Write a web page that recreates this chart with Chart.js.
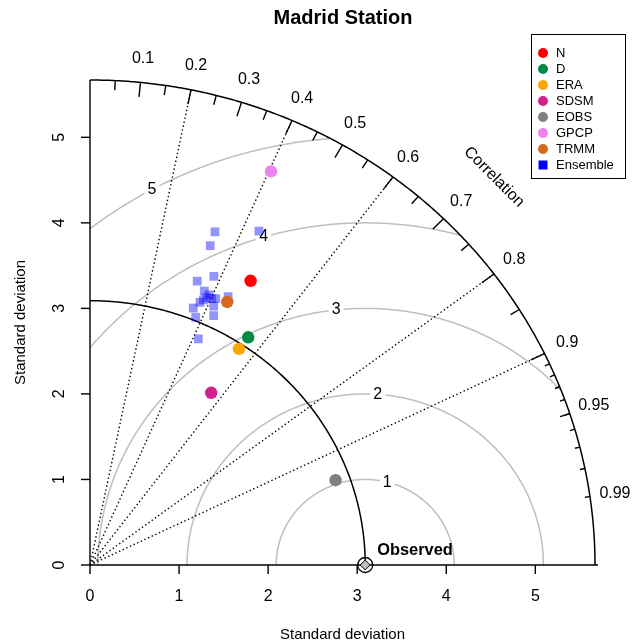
<!DOCTYPE html>
<html><head><meta charset="utf-8">
<script src="https://cdn.jsdelivr.net/npm/chart.js@4/dist/chart.umd.min.js"></script>
<style>html,body{margin:0;padding:0;background:#fff;}canvas{display:block;}</style>
</head><body>
<canvas id="c" width="633" height="644"></canvas>
<script>
// ---- data (standard deviation and correlation) ----
const chartTitle = 'Madrid Station';
const models = ['N', 'D', 'ERA', 'SDSM', 'EOBS', 'GPCP', 'TRMM'];
const modelSD = [3.78, 3.20, 3.03, 2.43, 2.93, 5.03, 3.44];
const modelCor = [0.477, 0.555, 0.552, 0.560, 0.941, 0.404, 0.448];
const modelColors = ['#FF0000', '#008B45', '#FFA500', '#D02090', '#808080', '#EE82EE', '#D2691E'];
const ensembleLabel = 'Ensemble';
const ensembleSD = [4.14, 4.34, 3.97, 3.53, 3.65, 3.45, 3.50, 3.39, 3.40, 3.42, 3.43, 3.35, 3.31, 3.22, 3.33, 3.13, 3.23, 2.91];
const ensembleCor = [0.339, 0.437, 0.340, 0.341, 0.381, 0.372, 0.443, 0.386, 0.402, 0.413, 0.390, 0.380, 0.373, 0.360, 0.417, 0.379, 0.430, 0.418];
const observedSD = 3.09;
const maxSD = 5.67;
const sdTicks = [0, 1, 2, 3, 4, 5];
const rmsLevels = [1, 2, 3, 4, 5];
const corrLines = [0.2, 0.4, 0.6, 0.8, 0.9];
const corrMajor = [0.1, 0.2, 0.3, 0.4, 0.5, 0.6, 0.7, 0.8, 0.9];
const corrMedium = [0.05, 0.15, 0.25, 0.35, 0.45, 0.55, 0.65, 0.75, 0.85, 0.95];
const corrMinor = [0.91, 0.92, 0.93, 0.94, 0.95, 0.96, 0.97, 0.98, 0.99];
const corrLabels = [0.1, 0.2, 0.3, 0.4, 0.5, 0.6, 0.7, 0.8, 0.9, 0.95, 0.99];

const FONT = '"Liberation Sans", Arial, Helvetica, sans-serif';
const toXY = (sd, r) => ({ x: sd * r, y: sd * Math.sqrt(1 - r * r) });

const datasets = [];
datasets.push({ label: 'ObservedCircle', data: [toXY(observedSD, 1)], pointStyle: 'circle', pointRadius: 7.5,
  backgroundColor: 'rgba(0,0,0,0)', borderColor: '#000', borderWidth: 1.3, clip: false });
datasets.push({ label: 'Observed', data: [toXY(observedSD, 1)], pointStyle: 'rectRot', pointRadius: 5,
  backgroundColor: '#BEBEBE', borderColor: '#000', borderWidth: 1, clip: false });
models.forEach((m, i) => datasets.push({ label: m, data: [toXY(modelSD[i], modelCor[i])], pointStyle: 'circle',
  pointRadius: 6.2, backgroundColor: modelColors[i], borderWidth: 0, clip: false }));
datasets.push({ label: ensembleLabel, data: ensembleSD.map((s, i) => toXY(s, ensembleCor[i])), pointStyle: 'rect',
  pointRadius: 6.2, backgroundColor: 'rgba(0,0,255,0.42)', borderWidth: 0, clip: false });

const taylor = {
  id: 'taylor',
  beforeDatasetsDraw(chart) {
    const ctx = chart.ctx, xs = chart.scales.x, ys = chart.scales.y;
    const P = (x, y) => [xs.getPixelForValue(x), ys.getPixelForValue(y)];
    ctx.save();
    // RMS (gamma) arcs
    ctx.strokeStyle = '#BEBEBE'; ctx.lineWidth = 1.5;
    rmsLevels.forEach(g => {
      ctx.beginPath(); let started = false;
      for (let t = 0; t <= Math.PI + 1e-9; t += 0.004) {
        const x = observedSD + g * Math.cos(t), y = g * Math.sin(t);
        if (x >= 0 && x * x + y * y <= maxSD * maxSD) {
          const p = P(x, y);
          if (!started) { ctx.moveTo(p[0], p[1]); started = true; } else ctx.lineTo(p[0], p[1]);
        }
      }
      ctx.stroke();
    });
    // correlation dotted lines
    ctx.strokeStyle = '#000'; ctx.lineWidth = 1.4; ctx.setLineDash([1.4, 2.6]);
    corrLines.forEach(r => {
      const a = P(0, 0), b = P(maxSD * r, maxSD * Math.sqrt(1 - r * r));
      ctx.beginPath(); ctx.moveTo(a[0], a[1]); ctx.lineTo(b[0], b[1]); ctx.stroke();
    });
    ctx.setLineDash([]);
    // arcs: observed and outer
    [observedSD, maxSD].forEach(R => {
      ctx.beginPath();
      for (let t = 0; t <= Math.PI / 2 + 1e-9; t += 0.004) {
        const p = P(R * Math.cos(t), R * Math.sin(t));
        if (t === 0) ctx.moveTo(p[0], p[1]); else ctx.lineTo(p[0], p[1]);
      }
      const e = P(0, R); ctx.lineTo(e[0], e[1]);
      ctx.lineWidth = 1.5; ctx.stroke();
    });
    // correlation ticks
    const tick = (r, f) => {
      const s = Math.sqrt(1 - r * r);
      const a = P(maxSD * r, maxSD * s), b = P(maxSD * f * r, maxSD * f * s);
      ctx.beginPath(); ctx.moveTo(a[0], a[1]); ctx.lineTo(b[0], b[1]); ctx.stroke();
    };
    ctx.lineWidth = 1.4;
    corrMajor.forEach(r => tick(r, 0.97));
    corrMedium.forEach(r => tick(r, 0.98));
    corrMinor.forEach(r => tick(r, 0.99));
    // axes lines
    const o = P(0, 0), xe = P(maxSD, 0), ye = P(0, maxSD);
    ctx.beginPath(); ctx.moveTo(o[0], o[1]); ctx.lineTo(xe[0] + 3, xe[1]); ctx.stroke();
    ctx.beginPath(); ctx.moveTo(o[0], o[1]); ctx.lineTo(ye[0], ye[1]); ctx.stroke();
    // axis ticks and labels
    ctx.fillStyle = '#000'; ctx.font = '16px ' + FONT; ctx.textAlign = 'center'; ctx.textBaseline = 'middle';
    sdTicks.forEach(v => {
      const px = P(v, 0); ctx.beginPath(); ctx.moveTo(px[0], px[1]); ctx.lineTo(px[0], px[1] + 9); ctx.stroke();
      ctx.fillText(String(v), px[0], px[1] + 32);
      const py = P(0, v); ctx.beginPath(); ctx.moveTo(py[0], py[1]); ctx.lineTo(py[0] - 9, py[1]); ctx.stroke();
      ctx.save(); ctx.translate(py[0] - 30, py[1]); ctx.rotate(-Math.PI / 2); ctx.fillText(String(v), 0, 0); ctx.restore();
    });
    // correlation labels
    corrLabels.forEach(r => {
      const p = P(1.05 * maxSD * r, 1.05 * maxSD * Math.sqrt(1 - r * r));
      ctx.fillText(String(r), p[0], p[1]);
    });
    const cp = P(0.8 * maxSD, 0.8 * maxSD);
    ctx.save(); ctx.translate(cp[0], cp[1]); ctx.rotate(Math.PI / 4); ctx.fillText('Correlation', 0, 0); ctx.restore();
    // gamma labels with white boxes
    const labelIdx = [45, 51, 57, 63, 70];
    rmsLevels.forEach((g, i) => {
      const t = (labelIdx[i] - 1) * 0.03;
      const x = observedSD + g * Math.cos(t), y = g * Math.sin(t);
      if (x > 0) {
        const p = P(x, y); const w = ctx.measureText(String(g)).width + 6;
        ctx.fillStyle = '#fff'; ctx.fillRect(p[0] - w / 2, p[1] - 9, w, 18);
        ctx.fillStyle = '#000'; ctx.fillText(String(g), p[0], p[1]);
      }
    });
    ctx.restore();
  },
  afterDatasetsDraw(chart) {
    const ctx = chart.ctx, xs = chart.scales.x, ys = chart.scales.y;
    ctx.save();
    ctx.fillStyle = '#000';
    // Observed label
    ctx.font = 'bold 16.4px ' + FONT; ctx.textAlign = 'left'; ctx.textBaseline = 'middle';
    ctx.fillText('Observed', xs.getPixelForValue(observedSD) + 12, ys.getPixelForValue(0) - 15);
    // Title
    ctx.font = 'bold 20px ' + FONT; ctx.textAlign = 'center';
    ctx.fillText(chartTitle, 343, 18);
    // Axis titles
    ctx.font = '15px ' + FONT;
    ctx.fillText('Standard deviation', (xs.left + xs.right) / 2, 635);
    ctx.save(); ctx.translate(21, (ys.top + ys.bottom) / 2); ctx.rotate(-Math.PI / 2);
    ctx.fillText('Standard deviation', 0, 0); ctx.restore();
    // Legend
    const lx = 531, ly = 34, lw = 94, lh = 144;
    ctx.fillStyle = '#fff'; ctx.fillRect(lx, ly, lw, lh);
    ctx.strokeStyle = '#000'; ctx.lineWidth = 1; ctx.strokeRect(lx + 0.5, ly + 0.5, lw, lh);
    ctx.font = '13px ' + FONT; ctx.textAlign = 'left';
    const names = models.concat([ensembleLabel]);
    names.forEach((n, i) => {
      const y = 53 + i * 16;
      if (i < models.length) {
        ctx.fillStyle = modelColors[i]; ctx.beginPath(); ctx.arc(543, y, 5, 0, Math.PI * 2); ctx.fill();
      } else {
        ctx.fillStyle = '#0000FF'; ctx.fillRect(538.5, y - 4.5, 9, 9);
      }
      ctx.fillStyle = '#000'; ctx.fillText(n, 556, y + 0.5);
    });
    ctx.restore();
  }
};

new Chart(document.getElementById('c'), {
  type: 'scatter',
  data: { datasets },
  options: {
    responsive: false, animation: false, devicePixelRatio: 1, events: [],
    layout: { padding: { left: 90, right: 38, top: 80, bottom: 79 } },
    scales: {
      x: { type: 'linear', min: 0, max: maxSD, display: false },
      y: { type: 'linear', min: 0, max: maxSD, display: false }
    },
    plugins: { legend: { display: false }, tooltip: { enabled: false }, title: { display: false } }
  },
  plugins: [taylor]
});
</script>
</body></html>
